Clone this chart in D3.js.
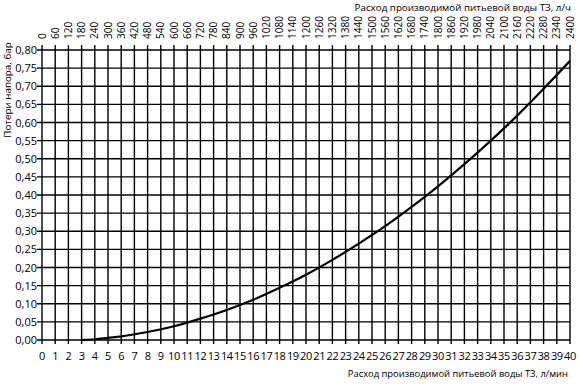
<!DOCTYPE html>
<html><head><meta charset="utf-8">
<script src="https://cdn.jsdelivr.net/npm/d3@7"></script>
<style>
body{margin:0;background:#fff;}
text{font-family:"Open Sans","Noto Sans",sans-serif;fill:#000;}
</style></head>
<body><svg id="c" width="581" height="384"></svg>
<script>
// Flow in l/min (bottom axis) and pressure loss in bar
const flowLmin = [3, 4, 5, 6, 8, 10, 12, 14, 16, 18, 20, 22, 24, 26, 28, 30, 32, 34, 36, 38, 40];
const pressureBar = [0.000, 0.002, 0.006, 0.010, 0.022, 0.038, 0.059, 0.083, 0.111, 0.144, 0.180, 0.221, 0.266, 0.314, 0.367, 0.424, 0.485, 0.550, 0.619, 0.693, 0.770];

const bottomTicks = [0,1,2,3,4,5,6,7,8,9,10,11,12,13,14,15,16,17,18,19,20,21,22,23,24,25,26,27,28,29,30,31,32,33,34,35,36,37,38,39,40];
const topTicks = [0,60,120,180,240,300,360,420,480,540,600,660,720,780,840,900,960,1020,1080,1140,1200,1260,1320,1380,1440,1500,1560,1620,1680,1740,1800,1860,1920,1980,2040,2100,2160,2220,2280,2340,2400];
const yTicks = [0.00,0.05,0.10,0.15,0.20,0.25,0.30,0.35,0.40,0.45,0.50,0.55,0.60,0.65,0.70,0.75,0.80];

const yTitle = "Потери напора, бар";
const topTitle = "Расход производимой питьевой воды ТЗ, л/ч";
const bottomTitle = "Расход производимой питьевой воды ТЗ, л/мин";

const L = 42, R = 570, T = 50, B = 340;
const svg = d3.select("#c");
const x = d3.scaleLinear().domain([0, 40]).range([L, R]);
const xTop = d3.scaleLinear().domain([0, 2400]).range([L, R]);
const y = d3.scaleLinear().domain([0, 0.8]).range([B, T]);
const fmt = v => v.toFixed(2).replace(".", ",");

// grid (vertical lines extend a little above/below as ticks)
svg.append("g").selectAll("line").data(bottomTicks).join("line")
  .attr("x1", d => x(d)).attr("x2", d => x(d))
  .attr("y1", T - 5).attr("y2", B + 4)
  .attr("stroke", "#000").attr("stroke-width", 1.4);
svg.append("g").selectAll("line").data(yTicks).join("line")
  .attr("x1", L - 5).attr("x2", R)
  .attr("y1", d => y(d)).attr("y2", d => y(d))
  .attr("stroke", "#000").attr("stroke-width", 1.4);

// y labels
svg.append("g").selectAll("text").data(yTicks).join("text")
  .attr("x", L - 5).attr("y", d => y(d) + 4)
  .attr("text-anchor", "end").attr("font-size", 11).attr("fill", "#222")
  .text(fmt);

// bottom labels
svg.append("g").selectAll("text").data(bottomTicks).join("text")
  .attr("x", d => x(d)).attr("y", 360)
  .attr("text-anchor", "middle").attr("font-size", 11).attr("letter-spacing", -0.4)
  .text(d => d);

// top labels (rotated)
svg.append("g").selectAll("text").data(topTicks).join("text")
  .attr("transform", d => `translate(${xTop(d) + 3.5},39) rotate(-90)`)
  .attr("text-anchor", "start").attr("font-size", 10)
  .text(d => d);

// titles
svg.append("text").attr("x", 571).attr("y", 11).attr("text-anchor", "end")
  .attr("font-size", 9.8).text(topTitle);
svg.append("text").attr("x", 568).attr("y", 377).attr("text-anchor", "end")
  .attr("font-size", 9.4).text(bottomTitle);
svg.append("text").attr("transform", "translate(11,90) rotate(-90)")
  .attr("text-anchor", "middle").attr("font-size", 9.8).text(yTitle);

// curve
const line = d3.line().x((d, i) => x(flowLmin[i])).y(d => y(d)).curve(d3.curveMonotoneX);
svg.append("path").datum(pressureBar).attr("d", line)
  .attr("fill", "none").attr("stroke", "#000").attr("stroke-width", 2.2);
</script></body></html>
